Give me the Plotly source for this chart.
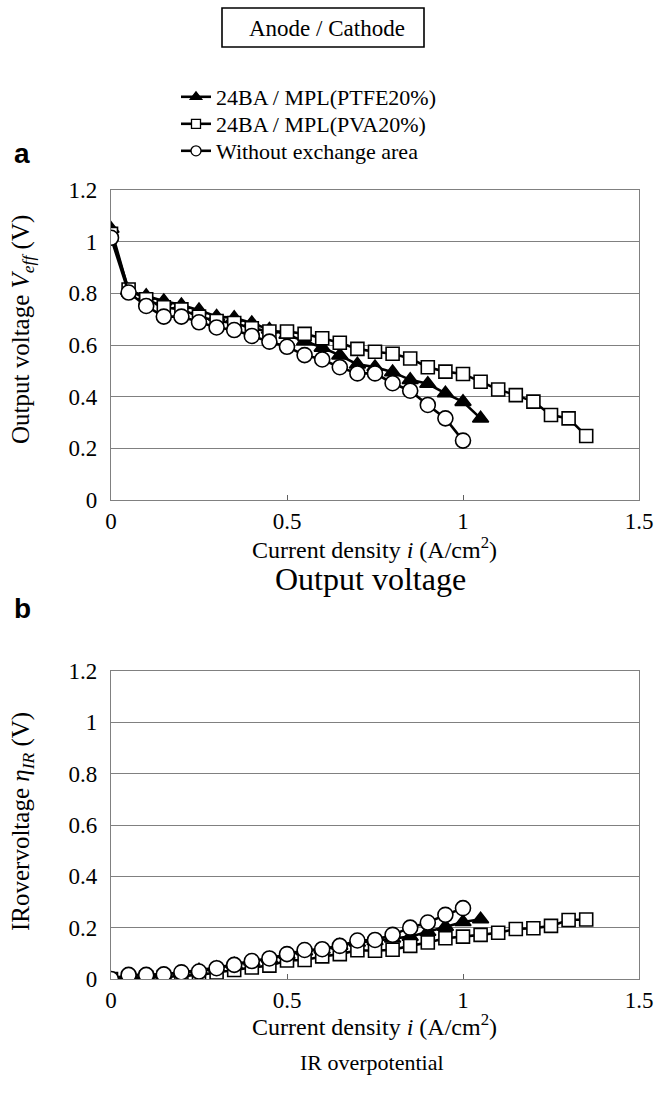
import plotly.graph_objects as go

# Current density (A/cm2)
i_ptfe = [0, 0.05, 0.1, 0.15, 0.2, 0.25, 0.3, 0.35, 0.4, 0.45, 0.5, 0.55, 0.6, 0.65, 0.7, 0.75, 0.8, 0.85, 0.9, 0.95, 1.0, 1.05]
i_pva = [0, 0.05, 0.1, 0.15, 0.2, 0.25, 0.3, 0.35, 0.4, 0.45, 0.5, 0.55, 0.6, 0.65, 0.7, 0.75, 0.8, 0.85, 0.9, 0.95, 1.0, 1.05, 1.1, 1.15, 1.2, 1.25, 1.3, 1.35]
i_wo = [0, 0.05, 0.1, 0.15, 0.2, 0.25, 0.3, 0.35, 0.4, 0.45, 0.5, 0.55, 0.6, 0.65, 0.7, 0.75, 0.8, 0.85, 0.9, 0.95, 1.0]

# (a) Output voltage (V)
v_ptfe = [1.05, 0.81, 0.79, 0.77, 0.755, 0.735, 0.71, 0.705, 0.685, 0.66, 0.64, 0.615, 0.59, 0.56, 0.525, 0.515, 0.495, 0.465, 0.45, 0.413, 0.38, 0.316]
v_pva = [1.03, 0.815, 0.777, 0.746, 0.738, 0.71, 0.693, 0.685, 0.665, 0.652, 0.652, 0.643, 0.626, 0.609, 0.585, 0.574, 0.566, 0.548, 0.514, 0.497, 0.488, 0.458, 0.428, 0.406, 0.381, 0.329, 0.316, 0.248]
v_wo = [1.015, 0.803, 0.751, 0.71, 0.71, 0.688, 0.668, 0.658, 0.635, 0.613, 0.593, 0.561, 0.544, 0.514, 0.49, 0.49, 0.452, 0.423, 0.368, 0.316, 0.23]

# (b) IR overvoltage (V)
ir_ptfe = [0, 0.012, 0.015, 0.018, 0.026, 0.034, 0.044, 0.057, 0.068, 0.08, 0.095, 0.108, 0.115, 0.13, 0.142, 0.148, 0.158, 0.165, 0.184, 0.204, 0.222, 0.233]
ir_pva = [0, 0.004, 0.006, 0.008, 0.011, 0.016, 0.025, 0.035, 0.045, 0.052, 0.072, 0.074, 0.088, 0.097, 0.112, 0.11, 0.114, 0.129, 0.142, 0.159, 0.165, 0.172, 0.18, 0.195, 0.198, 0.207, 0.23, 0.232]
ir_wo = [0, 0.016, 0.016, 0.018, 0.026, 0.029, 0.042, 0.055, 0.07, 0.08, 0.097, 0.113, 0.116, 0.129, 0.15, 0.152, 0.172, 0.2, 0.22, 0.25, 0.276]

names = ["24BA / MPL(PTFE20%)", "24BA / MPL(PVA20%)", "Without exchange area"]
x_ticks = [0, 0.5, 1, 1.5]
y_ticks = [0, 0.2, 0.4, 0.6, 0.8, 1, 1.2]

SERIF = "Liberation Serif, Times New Roman, serif"
SANS = "Liberation Sans, Arial, sans-serif"
W, H = 670, 1100

symbols = ["triangle-up", "square", "circle"]
fills = ["black", "white", "white"]
sizes = [14, 13, 15]
legend_sizes = [10, 9, 10]
legend_ids = ["legend", "legend2", "legend3"]

def px_x(p):
    return p / W

def px_y(p):
    return 1 - p / H

fig = go.Figure()
series_a = [(i_ptfe, v_ptfe), (i_pva, v_pva), (i_wo, v_wo)]
series_b = [(i_ptfe, ir_ptfe), (i_pva, ir_pva), (i_wo, ir_wo)]
for panel, series in ((("x", "y"), series_a), (("x2", "y2"), series_b)):
    for k, (xs, ys) in enumerate(series):
        fig.add_trace(go.Scatter(
            x=xs, y=ys, mode="lines+markers", name=names[k], showlegend=False,
            line=dict(color="black", width=2.6),
            marker=dict(symbol=symbols[k], size=sizes[k], color=fills[k],
                        line=dict(color="black", width=1.6)),
            xaxis=panel[0], yaxis=panel[1]))

# legend entries (one legend per row so row spacing matches)
for k in range(3):
    fig.add_trace(go.Scatter(
        x=[None], y=[None], mode="lines+markers", name=names[k], showlegend=True,
        legend=legend_ids[k], line=dict(color="black", width=2.6),
        marker=dict(symbol=symbols[k], size=legend_sizes[k], color=fills[k],
                    line=dict(color="black", width=1.3)),
        xaxis="x", yaxis="y"))

legend_rows = [97, 124, 151]
legend_font = dict(family=SERIF, size=22, color="black")
legends = {}
for k in range(3):
    legends[legend_ids[k]] = dict(x=px_x(176), y=px_y(legend_rows[k]), xanchor="left", yanchor="middle",
                                  font=legend_font, bgcolor="rgba(0,0,0,0)", itemwidth=30,
                                  borderwidth=0, tracegroupgap=0)

xdom = [px_x(111), px_x(639)]
ax_common = dict(showline=True, linecolor="#808080", linewidth=1.3, mirror=True, zeroline=False,
                 automargin=False, tickfont=dict(family=SERIF, size=23, color="black"))
fig.update_layout(
    width=W, height=H, margin=dict(l=0, r=0, t=0, b=0, pad=0, autoexpand=False),
    paper_bgcolor="white", plot_bgcolor="white",
    font=dict(family=SERIF, color="black"),
    xaxis=dict(domain=xdom, anchor="y", range=[0, 1.5], tickvals=x_ticks, showgrid=False,
               ticks="inside", ticklen=5, tickcolor="#606060", ticklabelstandoff=0, **ax_common),
    yaxis=dict(domain=[px_y(500), px_y(190)], anchor="x", range=[0, 1.2], tickvals=y_ticks,
               showgrid=True, gridcolor="#808080", gridwidth=1.3, ticks="", ticklabelstandoff=8, **ax_common),
    xaxis2=dict(domain=xdom, anchor="y2", range=[0, 1.5], tickvals=x_ticks, showgrid=False,
                ticks="inside", ticklen=5, tickcolor="#606060", ticklabelstandoff=0, **ax_common),
    yaxis2=dict(domain=[px_y(979), px_y(671)], anchor="x2", range=[0, 1.2], tickvals=y_ticks,
                showgrid=True, gridcolor="#808080", gridwidth=1.3, ticks="", ticklabelstandoff=8, **ax_common),
    showlegend=True,
    **legends,
)

fig.add_shape(type="rect", xref="paper", yref="paper", x0=px_x(222), x1=px_x(424),
              y0=px_y(47), y1=px_y(8), line=dict(color="black", width=1.6), fillcolor="white")

def note(text, x, y, size, family=SERIF, **kw):
    d = dict(text=text, x=px_x(x), y=px_y(y), xref="paper", yref="paper", showarrow=False,
             xanchor="center", yanchor="middle", font=dict(family=family, size=size, color="black"))
    d.update(kw)
    return d

ann = [
    note("Anode / Cathode", 327, 28, 23),
    note("<b>a</b>", 22, 153, 28, family=SANS),
    note("<b>b</b>", 22, 608, 28, family=SANS),
    note("Output voltage <i>V</i><sub><i>eff</i></sub> (V)", 22, 330, 25, textangle=-90),
    note("IRovervoltage <i>η</i><sub><i>IR</i></sub> (V)", 22, 822, 25, textangle=-90),
    note("Current density <i>i</i> (A/cm<sup>2</sup>)", 375, 548, 24),
    note("Current density <i>i</i> (A/cm<sup>2</sup>)", 375, 1025, 24),
    note("Output voltage", 370, 579, 32),
    note("IR overpotential", 372, 1062, 22),
]
fig.update_layout(annotations=ann)

fig.write_html("out.html", config={"displayModeBar": False},
               post_script="document.body.style.margin='0';")
